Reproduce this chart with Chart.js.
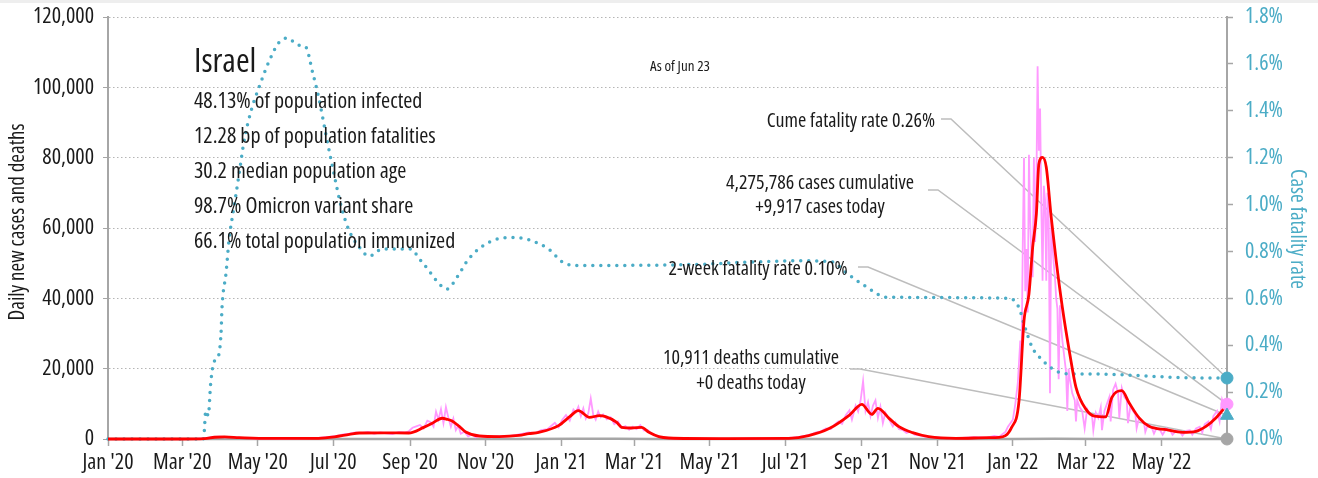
<!DOCTYPE html>
<html>
<head>
<meta charset="utf-8">
<script src="https://cdn.jsdelivr.net/npm/chart.js@4.4.1/dist/chart.umd.min.js"></script>
<style>
  html, body { margin: 0; padding: 0; background: #fff; }
  #wrap { position: relative; width: 1318px; height: 478px; }
</style>
</head>
<body>
<div id="wrap"><canvas id="c" width="1318" height="478"></canvas></div>
<script>
// Days are counted from 1 Jan 2020.
const tickDays = [0, 60, 121, 182, 244, 305, 366, 425, 486, 547, 609, 670, 731, 790, 851];
const tickLabels = ["Jan '20", "Mar '20", "May '20", "Jul '20", "Sep '20", "Nov '20", "Jan '21",
  "Mar '21", "May '21", "Jul '21", "Sep '21", "Nov '21", "Jan '22", "Mar '22", "May '22"];
const lastDay = 904; // 23 Jun 2022

// Daily new cases [day, cases]
const dailyCases = [
  [0,0],[50,0],[70,50],[80,300],[85,600],[90,700],[95,500],[100,600],[105,350],[112,250],[120,100],
  [130,80],[140,50],[150,100],[160,200],[170,300],[178,600],[185,900],[190,1300],[195,1500],[200,1900],
  [205,1700],[210,2000],[215,1500],[220,1900],[225,1600],[230,1400],[235,2000],[240,1800],[243,2200],
  [246,3200],[249,3600],[252,4000],[255,3000],[258,5200],[261,4700],[263,3500],[265,7800],[267,5500],
  [269,8500],[271,4500],[273,9100],[275,6000],[277,3500],[279,5800],[281,2500],[283,3800],[285,1500],
  [288,2100],[291,700],[294,1400],[297,500],[300,900],[305,700],[310,500],[315,800],[320,700],[325,900],
  [330,1200],[335,1500],[340,1900],[345,1700],[350,2500],[355,2800],[358,3700],[361,4600],[364,3300],
  [367,5500],[370,6800],[373,5200],[376,8400],[378,7600],[380,9200],[382,6500],[384,8700],[386,5800],
  [388,7300],[390,11500],[392,6900],[394,5500],[396,7800],[398,6200],[400,7000],[403,5600],[406,6200],
  [409,4200],[412,5000],[415,3200],[418,3700],[421,2600],[424,3500],[427,2800],[430,3900],[433,2400],
  [436,2600],[439,1500],[442,1100],[446,600],[450,400],[455,200],[465,100],[480,60],[500,40],[520,100],
  [535,20],[545,150],[552,350],[558,600],[563,900],[568,1300],[572,1900],[576,2200],[580,3000],[584,2800],
  [587,4100],[590,5000],[593,4300],[596,6800],[599,8200],[601,5500],[604,9500],[606,7800],[608,11000],
  [610,16500],[612,8000],[614,10500],[616,6500],[618,9500],[620,11000],[622,6000],[624,9200],[626,4500],
  [628,7500],[631,5500],[634,3600],[636,4800],[639,2800],[642,2600],[645,1700],[648,2100],[652,1200],
  [656,1000],[660,700],[666,500],[672,400],[680,150],[690,300],[700,500],[710,400],[716,900],[720,600],
  [722,1200],[725,2000],[727,3500],[729,4500],[731,5500],[733,10000],[735,16000],[737,28000],[738,22000],
  [739,55000],[740,80000],[741,42000],[742,54000],[743,36000],[744,80800],[745,62000],[746,52000],
  [747,46000],[748,80000],[749,56000],[750,72000],[751,106000],[752,82000],[753,94000],[754,66000],
  [755,45000],[756,72000],[757,68000],[758,45000],[759,70000],[760,62000],[761,13000],[762,62000],
  [763,55000],[764,50000],[765,46000],[766,40000],[767,37000],[768,17000],[769,38000],[770,32000],
  [771,28000],[772,25000],[773,22000],[774,19000],[775,8000],[776,20000],[777,17000],[778,15000],
  [779,13000],[780,12000],[781,11000],[782,5000],[783,11000],[785,9000],[787,8000],[789,3000],[791,8500],
  [793,7000],[795,6500],[796,2500],[798,7500],[800,6000],[802,9000],[803,2500],[805,8000],[807,10000],
  [809,12000],[810,5000],[812,14000],[814,15700],[816,13000],[817,6000],[819,14500],[821,12000],
  [823,11000],[824,4500],[826,9500],[828,8000],[830,7000],[831,3000],[833,6000],[835,5000],[837,4500],
  [838,2000],[840,4000],[843,3500],[845,1500],[847,3000],[850,2500],[852,1200],[855,3000],[858,2500],
  [860,1200],[863,2400],[866,2000],[868,1000],[871,2300],[874,2500],[876,1200],[879,3000],[882,3500],
  [884,1800],[886,4200],[889,5000],[891,2800],[893,6500],[896,8000],[898,5000],[900,11200],[902,9000],
  [904,9917]
];

// 7-day average of new cases [day, cases]
const avgCases = [
  [0,0],[60,0],[78,100],[86,500],[94,600],[106,400],[130,150],[170,200],[183,600],[195,1300],[203,1700],
  [223,1750],[243,1700],[255,3300],[262,4500],[270,5900],[274,5600],[278,5100],[284,3500],[289,2000],
  [300,850],[316,700],[332,1000],[340,1500],[348,1900],[364,3800],[373,6350],[380,8060],[389,6160],
  [397,6640],[402,6350],[411,4740],[415,3320],[423,3130],[431,3300],[437,1900],[445,660],[453,280],
  [494,100],[550,190],[566,950],[583,3030],[599,6800],[609,9860],[617,7000],[622,8720],[631,5880],
  [639,3500],[650,1800],[663,660],[685,190],[712,380],[720,470],[730,3300],[736,10900],[740,33600],
  [744,41200],[747,54500],[750,64000],[752,78200],[755,80100],[758,77300],[762,63000],[766,50700],
  [771,37400],[777,24200],[782,14700],[790,8500],[797,6500],[806,6300],[811,11850],[819,13750],
  [825,10240],[833,6000],[841,3600],[855,2650],[868,1900],[879,2200],[887,3600],[895,6000],[904,9700]
];

// Daily deaths [day, deaths]
const dailyDeaths = [
  [0,0],[80,2],[100,10],[130,1],[180,2],[230,15],[270,30],[300,25],[330,12],[380,60],[410,50],[440,25],
  [480,3],[560,1],[610,30],[640,20],[690,5],[730,3],[765,80],[800,30],[840,8],[880,2],[904,0]
];

// Cumulative case fatality rate, percent [day, %]
const caseFatality = [
  [0,0],[77,0],[77.6,0.02],[79,0.12],[81,0.1],[83,0.24],[85.7,0.33],[89,0.35],[91.3,0.45],[92.1,0.56],
  [95.4,0.71],[97.8,0.85],[101.8,0.99],[105.9,1.13],[109.9,1.27],[115.6,1.40],[122,1.50],[130,1.61],
  [138,1.69],[144.6,1.71],[154,1.68],[160,1.67],[165,1.57],[170.5,1.45],[176,1.30],[182.6,1.13],
  [188,1.0],[194.7,0.89],[202.8,0.82],[211,0.78],[221.4,0.81],[235,0.81],[245,0.81],[251.3,0.77],
  [259,0.72],[267,0.665],[274,0.64],[282,0.69],[291.7,0.77],[308,0.84],[328,0.86],[340,0.85],[356,0.81],
  [368.5,0.75],[380.6,0.74],[477,0.745],[520,0.755],[560,0.76],[585,0.755],[596,0.71],[612.5,0.65],
  [628.7,0.605],[728,0.6],[736,0.56],[740,0.49],[746.7,0.39],[752.3,0.35],[758,0.32],[766,0.29],
  [775,0.278],[801,0.277],[841,0.268],[865,0.262],[904,0.26]
];

// Latest figures
const casesToday = 9917;
const deathsToday = 0;
const casesCumulative = 4275786;
const deathsCumulative = 10911;
const cumeFatalityRate = 0.26;
const twoWeekFatalityRate = 0.10;

const countryName = 'Israel';
const countryFacts = [
  '48.13% of population infected',
  '12.28 bp of population fatalities',
  '30.2 median population age',
  '98.7% Omicron variant share',
  '66.1% total population immunized'
];
const asOfText = 'As of Jun 23';

const TEAL = '#4BACC6';
const PINK = '#FF99FF';
const RED = '#FF0000';
const GREY = '#A6A6A6';
const INK = '#1a1a1a';
const FAMILY = '"Open Sans", sans-serif';
const STRETCH = 'condensed'; // passed through the font weight slot of the CSS font shorthand
const cfont = px => 'normal ' + STRETCH + ' ' + px + 'px ' + FAMILY;

const fmt = n => n.toLocaleString('en-US');
const pts = arr => arr.map(([x, y]) => ({ x, y }));

// Keep tick labels from pushing the plot area inwards
const noTickPadding = s => { s.paddingTop = 0; s.paddingBottom = 0; s.paddingLeft = 0; s.paddingRight = 0; };

// Labels, leader lines and axis titles
const notes = {
  id: 'notes',
  beforeDraw(chart) {
    const ctx = chart.ctx;
    ctx.save();
    ctx.fillStyle = '#eeeeee';
    ctx.fillRect(0, 0, chart.width, 3);
    ctx.restore();
  },
  beforeDatasetsDraw(chart) {
    const { ctx, scales } = chart;
    const xe = scales.x.getPixelForValue(lastDay);
    const leaders = [
      [941, 119, scales.yR.getPixelForValue(cumeFatalityRate)],
      [928, 190, scales.yL.getPixelForValue(casesToday)],
      [858, 267, scales.yR.getPixelForValue(twoWeekFatalityRate)],
      [850, 369, scales.yL.getPixelForValue(deathsToday)]
    ];
    ctx.save();
    ctx.strokeStyle = '#bdbdbd';
    ctx.lineWidth = 1.5;
    leaders.forEach(([x0, y0, y1]) => {
      ctx.beginPath();
      ctx.moveTo(x0, y0);
      ctx.lineTo(x0 + 10, y0);
      ctx.lineTo(xe, y1);
      ctx.stroke();
    });
    ctx.restore();
  },
  afterDraw(chart) {
    const ctx = chart.ctx;
    ctx.save();
    ctx.fillStyle = INK;
    ctx.textBaseline = 'alphabetic';

    ctx.textAlign = 'left';
    ctx.font = cfont(33);
    ctx.fillText(countryName, 194, 72);
    ctx.font = cfont(22);
    countryFacts.forEach((t, i) => ctx.fillText(t, 194, 108 + i * 35));

    ctx.textAlign = 'center';
    ctx.font = cfont(15);
    ctx.fillText(asOfText, 680, 71);

    ctx.font = cfont(20);
    ctx.textAlign = 'right';
    ctx.fillText('Cume fatality rate ' + cumeFatalityRate.toFixed(2) + '%', 935, 127);
    ctx.textAlign = 'center';
    ctx.fillText(fmt(casesCumulative) + ' cases cumulative', 820, 189);
    ctx.fillText('+' + fmt(casesToday) + ' cases today', 820, 213);
    ctx.fillText('2-week fatality rate ' + twoWeekFatalityRate.toFixed(2) + '%', 758, 275);
    ctx.fillText(fmt(deathsCumulative) + ' deaths cumulative', 751, 364);
    ctx.fillText('+' + fmt(deathsToday) + ' deaths today', 751, 389);

    // axis titles
    ctx.font = cfont(21);
    ctx.textBaseline = 'middle';
    ctx.save();
    ctx.translate(18, 222);
    ctx.rotate(-Math.PI / 2);
    ctx.fillText('Daily new cases and deaths', 0, 0);
    ctx.restore();
    ctx.save();
    ctx.fillStyle = TEAL;
    ctx.translate(1297, 229);
    ctx.rotate(Math.PI / 2);
    ctx.fillText('Case fatality rate', 0, 0);
    ctx.restore();
    ctx.restore();
  }
};

const tickFont = { family: FAMILY, size: 22, weight: STRETCH };

new Chart(document.getElementById('c'), {
  type: 'line',
  data: {
    datasets: [
      { data: [{ x: lastDay, y: cumeFatalityRate }], yAxisID: 'yR', pointStyle: 'circle', pointRadius: 6,
        backgroundColor: TEAL, borderColor: TEAL, showLine: false, clip: false },
      { data: [{ x: lastDay, y: twoWeekFatalityRate }], yAxisID: 'yR', pointStyle: 'triangle', pointRadius: 7.5,
        backgroundColor: TEAL, borderColor: TEAL, showLine: false, clip: false },
      { data: [{ x: lastDay, y: casesToday }], yAxisID: 'yL', pointStyle: 'circle', pointRadius: 6,
        backgroundColor: PINK, borderColor: PINK, showLine: false, clip: false },
      { data: [{ x: lastDay, y: deathsToday }], yAxisID: 'yL', pointStyle: 'circle', pointRadius: 6,
        backgroundColor: GREY, borderColor: GREY, showLine: false, clip: false },
      { data: pts(avgCases), yAxisID: 'yL', borderColor: RED, borderWidth: 2.8, pointRadius: 0,
        cubicInterpolationMode: 'monotone', clip: false },
      { data: pts(caseFatality), yAxisID: 'yR', borderColor: TEAL, borderWidth: 3.5, pointRadius: 0,
        borderDash: [0, 8], borderCapStyle: 'round', cubicInterpolationMode: 'monotone', clip: false },
      { data: pts(dailyCases), yAxisID: 'yL', borderColor: PINK, borderWidth: 1.8, pointRadius: 0,
        tension: 0, clip: false },
      { data: pts(dailyDeaths), yAxisID: 'yL', borderColor: GREY, borderWidth: 2.5, pointRadius: 0,
        tension: 0, clip: false }
    ]
  },
  options: {
    responsive: false,
    animation: false,
    devicePixelRatio: 1,
    layout: { padding: { top: 17, left: 0, right: 0, bottom: 0 } },
    plugins: { legend: { display: false }, tooltip: { enabled: false } },
    scales: {
      x: {
        type: 'linear', min: 0, max: lastDay,
        afterBuildTicks: s => { s.ticks = tickDays.map(v => ({ value: v })); },
        afterFit: s => { noTickPadding(s); s.height = 39; },
        ticks: {
          autoSkip: false, maxRotation: 0, padding: 4, color: INK, font: tickFont,
          callback: v => tickLabels[tickDays.indexOf(v)]
        },
        grid: { drawOnChartArea: false, drawTicks: true, tickLength: 7, tickColor: GREY, tickWidth: 1.5 },
        border: { color: GREY, width: 2 }
      },
      yL: {
        position: 'left', min: 0, max: 120000,
        afterFit: s => { noTickPadding(s); s.width = 108; },
        ticks: { stepSize: 20000, padding: 9, color: INK, font: tickFont, callback: v => fmt(v) },
        grid: { color: '#b5b5b5', lineWidth: 1, drawTicks: true, tickLength: 5, tickColor: GREY,
          tickBorderDash: [] },
        border: { color: GREY, width: 2, dash: [1.5, 2.5] }
      },
      yR: {
        position: 'right', min: 0, max: 1.8,
        afterFit: s => { noTickPadding(s); s.width = 91; },
        ticks: { stepSize: 0.2, padding: 12, color: TEAL, font: tickFont, callback: v => v.toFixed(1) + '%' },
        grid: { drawOnChartArea: false, drawTicks: true, tickLength: 6, tickColor: GREY, tickWidth: 1.5 },
        border: { color: GREY, width: 2 }
      }
    }
  },
  plugins: [notes]
});
</script>
</body>
</html>
